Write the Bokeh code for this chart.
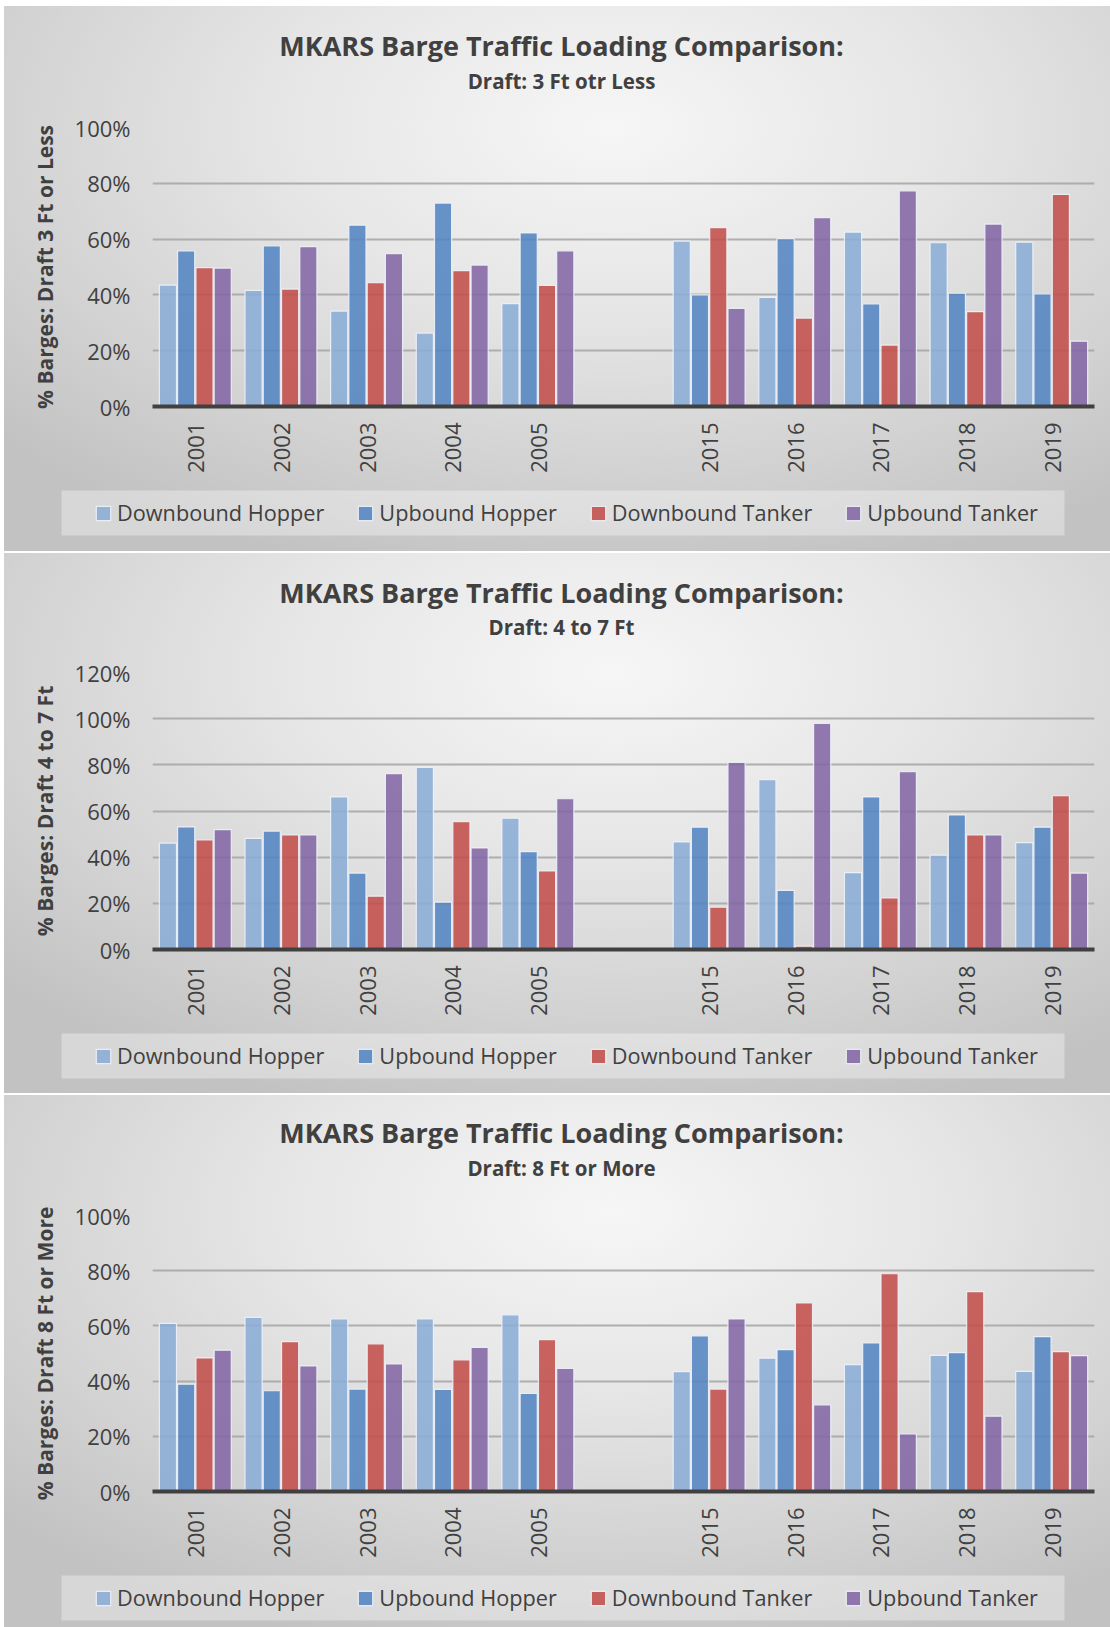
import math
from bokeh.plotting import figure
from bokeh.models import (FactorRange, Range1d, Label, Legend, LegendItem, NumeralTickFormatter,
                          FixedTicker, ColumnDataSource, BoxAnnotation, Grid, Spacer)
from bokeh.transform import dodge
from bokeh.layouts import column, row
from bokeh.embed import file_html
from bokeh.resources import INLINE

# ---------------- data ----------------
years = ["2001", "2002", "2003", "2004", "2005", "2015", "2016", "2017", "2018", "2019"]
x_factors = ["2001", "2002", "2003", "2004", "2005", " ", "2015", "2016", "2017", "2018", "2019"]
series_names = ["Downbound Hopper", "Upbound Hopper", "Downbound Tanker", "Upbound Tanker"]

# Draft: 3 Ft or Less
p1_down_hopper = [0.435, 0.416, 0.342, 0.263, 0.369, 0.593, 0.391, 0.625, 0.587, 0.589]
p1_up_hopper = [0.558, 0.576, 0.650, 0.729, 0.622, 0.400, 0.602, 0.368, 0.406, 0.404]
p1_down_tanker = [0.498, 0.421, 0.444, 0.487, 0.434, 0.641, 0.317, 0.220, 0.340, 0.760]
p1_up_tanker = [0.496, 0.573, 0.548, 0.507, 0.558, 0.352, 0.677, 0.773, 0.654, 0.234]

# Draft: 4 to 7 Ft
p2_down_hopper = [0.461, 0.481, 0.661, 0.789, 0.569, 0.466, 0.736, 0.333, 0.409, 0.463]
p2_up_hopper = [0.531, 0.513, 0.331, 0.205, 0.424, 0.530, 0.256, 0.661, 0.583, 0.530]
p2_down_tanker = [0.475, 0.496, 0.231, 0.554, 0.340, 0.183, 0.015, 0.223, 0.496, 0.666]
p2_up_tanker = [0.519, 0.496, 0.762, 0.440, 0.653, 0.811, 0.980, 0.771, 0.496, 0.331]

# Draft: 8 Ft or More
p3_down_hopper = [0.609, 0.631, 0.625, 0.625, 0.640, 0.434, 0.483, 0.460, 0.493, 0.435]
p3_up_hopper = [0.389, 0.365, 0.371, 0.370, 0.355, 0.564, 0.514, 0.538, 0.503, 0.561]
p3_down_tanker = [0.484, 0.543, 0.535, 0.477, 0.550, 0.371, 0.683, 0.789, 0.724, 0.507]
p3_up_tanker = [0.512, 0.455, 0.462, 0.522, 0.446, 0.625, 0.314, 0.209, 0.273, 0.492]

y_ticks_100 = [0, 0.2, 0.4, 0.6, 0.8, 1.0]
y_ticks_120 = [0, 0.2, 0.4, 0.6, 0.8, 1.0, 1.2]

# ---------------- style ----------------
colors = ["#8aadd6", "#5385c3", "#c34e4b", "#8366a4"]
offsets = [-0.32, -0.107, 0.107, 0.32]
FONT = "Open Sans"
TXT = "#404040"
W = 1106
BG = ("radial-gradient(ellipse 75% 85% at 55% 22%, #f6f6f6 0%, #e6e6e6 40%, "
      "#d2d2d2 75%, #c2c2c2 100%)")


def no_align(f):
    if "frame_align" in f.properties():
        f.frame_align = False
    return f


def strip_figure(height, x_range):
    f = figure(width=W, height=height, x_range=x_range, y_range=Range1d(0, height),
               output_backend="svg", toolbar_location=None, title=None,
               x_axis_location=None, y_axis_location=None, min_border=0)
    f.grid.visible = False
    f.outline_line_color = None
    f.border_fill_alpha = 0
    f.background_fill_alpha = 0
    return no_align(f)


def make_panel(title, subtitle, ylabel, dh, uh, dt, ut, ymax, ticks,
               title_h, title_y, sub_y, frame_h, legend_h):
    # ---- title strip ----
    ft = strip_figure(title_h, Range1d(0, W))
    ft.add_layout(Label(x=557, y=title_h - title_y, text=title, text_align="center",
                        text_baseline="middle", text_font=FONT, text_font_style="bold",
                        text_font_size="27px", text_color=TXT))
    ft.add_layout(Label(x=557, y=title_h - sub_y, text=subtitle, text_align="center",
                        text_baseline="middle", text_font=FONT, text_font_style="bold",
                        text_font_size="20.5px", text_color=TXT))

    # ---- chart ----
    top_b, bot_b = 16, 74
    p = figure(x_range=FactorRange(factors=x_factors, range_padding=0),
               y_range=Range1d(0, ymax), width=W, height=top_b + frame_h + bot_b,
               output_backend="svg", toolbar_location=None, title=None,
               min_border_left=148, min_border_right=16,
               min_border_top=top_b, min_border_bottom=bot_b)
    no_align(p)
    p.border_fill_alpha = 0
    p.background_fill_alpha = 0
    p.outline_line_color = None

    src = ColumnDataSource(dict(x=years, dh=dh, uh=uh, dt=dt, ut=ut))
    bar_style = dict(fill_alpha=0.88, line_color="#eef2f8", line_width=1.2, line_alpha=0.9)
    for key, col, off in zip(["dh", "uh", "dt", "ut"], colors, offsets):
        p.vbar(x=dodge("x", off, range=p.x_range), top=key, width=0.2,
               source=src, fill_color=col, **bar_style)

    p.xgrid.grid_line_color = None
    p.ygrid.ticker = FixedTicker(ticks=ticks[:-1])
    p.ygrid.grid_line_color = "#a4a4a4"
    p.ygrid.grid_line_width = 2
    p.ygrid.grid_line_alpha = 0.85
    p.add_layout(Grid(dimension=1, ticker=FixedTicker(ticks=ticks[-1:]),
                      grid_line_color="#d2d2d2", grid_line_width=2))

    p.yaxis.ticker = FixedTicker(ticks=ticks)
    p.yaxis.formatter = NumeralTickFormatter(format="0%")
    p.yaxis.axis_line_color = None
    p.yaxis.major_tick_line_color = None
    p.yaxis.minor_tick_line_color = None
    p.yaxis.major_tick_out = 0
    p.yaxis.major_tick_in = 0
    p.yaxis.major_label_standoff = 22
    p.yaxis.major_label_text_font = FONT
    p.yaxis.major_label_text_font_size = "22px"
    p.yaxis.major_label_text_color = TXT
    p.yaxis.axis_label = ylabel
    p.yaxis.axis_label_text_font = FONT
    p.yaxis.axis_label_text_font_style = "bold"
    p.yaxis.axis_label_text_font_size = "21px"
    p.yaxis.axis_label_text_color = TXT
    p.yaxis.axis_label_standoff = 13

    p.xaxis.axis_line_color = "#404040"
    p.xaxis.axis_line_width = 4
    p.xaxis.major_tick_line_color = None
    p.xaxis.minor_tick_line_color = None
    p.xaxis.major_tick_out = 0
    p.xaxis.major_tick_in = 0
    p.xaxis.major_label_orientation = math.pi / 2
    p.xaxis.major_label_standoff = 16
    p.xaxis.major_label_text_font = FONT
    p.xaxis.major_label_text_font_size = "22px"
    p.xaxis.major_label_text_color = TXT

    # ---- legend strip (swatches share the chart's data source) ----
    fl = strip_figure(legend_h, FactorRange(factors=x_factors, range_padding=0))
    fl.add_layout(BoxAnnotation(left=57, right=1060, left_units="screen", right_units="screen",
                                top=legend_h - 10, bottom=legend_h - 55,
                                fill_color="white", fill_alpha=0.35, line_color=None))
    swatches = []
    for key, col in zip(["dh", "uh", "dt", "ut"], colors):
        swatches.append(fl.vbar(x="x", top=key, width=0.2, source=src, fill_color=col,
                                visible=False, **bar_style))
    items = [LegendItem(label=n, renderers=[r]) for n, r in zip(series_names, swatches)]
    legend = Legend(items=items, orientation="horizontal",
                    location=(90, legend_h - 32.5 - 14.5),
                    background_fill_alpha=0, border_line_color=None, padding=0, margin=0,
                    spacing=32, label_standoff=5, glyph_width=18, glyph_height=18,
                    label_height=29,
                    label_text_font=FONT, label_text_font_size="21.7px",
                    label_text_color=TXT)
    fl.add_layout(legend)

    return column(ft, p, fl, spacing=0, styles={"background": BG})


panel1 = make_panel("MKARS Barge Traffic Loading Comparison:", "Draft: 3 Ft otr Less",
                    "% Barges: Draft 3 Ft or Less",
                    p1_down_hopper, p1_up_hopper, p1_down_tanker, p1_up_tanker,
                    1.0, y_ticks_100, 105, 39, 74, 279, 71)
panel2 = make_panel("MKARS Barge Traffic Loading Comparison:", "Draft: 4 to 7 Ft",
                    "% Barges: Draft 4 to 7 Ft",
                    p2_down_hopper, p2_up_hopper, p2_down_tanker, p2_up_tanker,
                    1.2, y_ticks_120, 103, 39, 73, 277, 70)
panel3 = make_panel("MKARS Barge Traffic Loading Comparison:", "Draft: 8 Ft or More",
                    "% Barges: Draft 8 Ft or More",
                    p3_down_hopper, p3_up_hopper, p3_down_tanker, p3_up_tanker,
                    1.0, y_ticks_100, 104, 37, 72.5, 276, 62)

panels = column(panel1, panel2, panel3, spacing=2)
layout = column(Spacer(height=4, width=W + 4),
                row(Spacer(width=4, height=10), panels, spacing=0),
                spacing=2)
open("out.html", "w").write(file_html(layout, INLINE))
